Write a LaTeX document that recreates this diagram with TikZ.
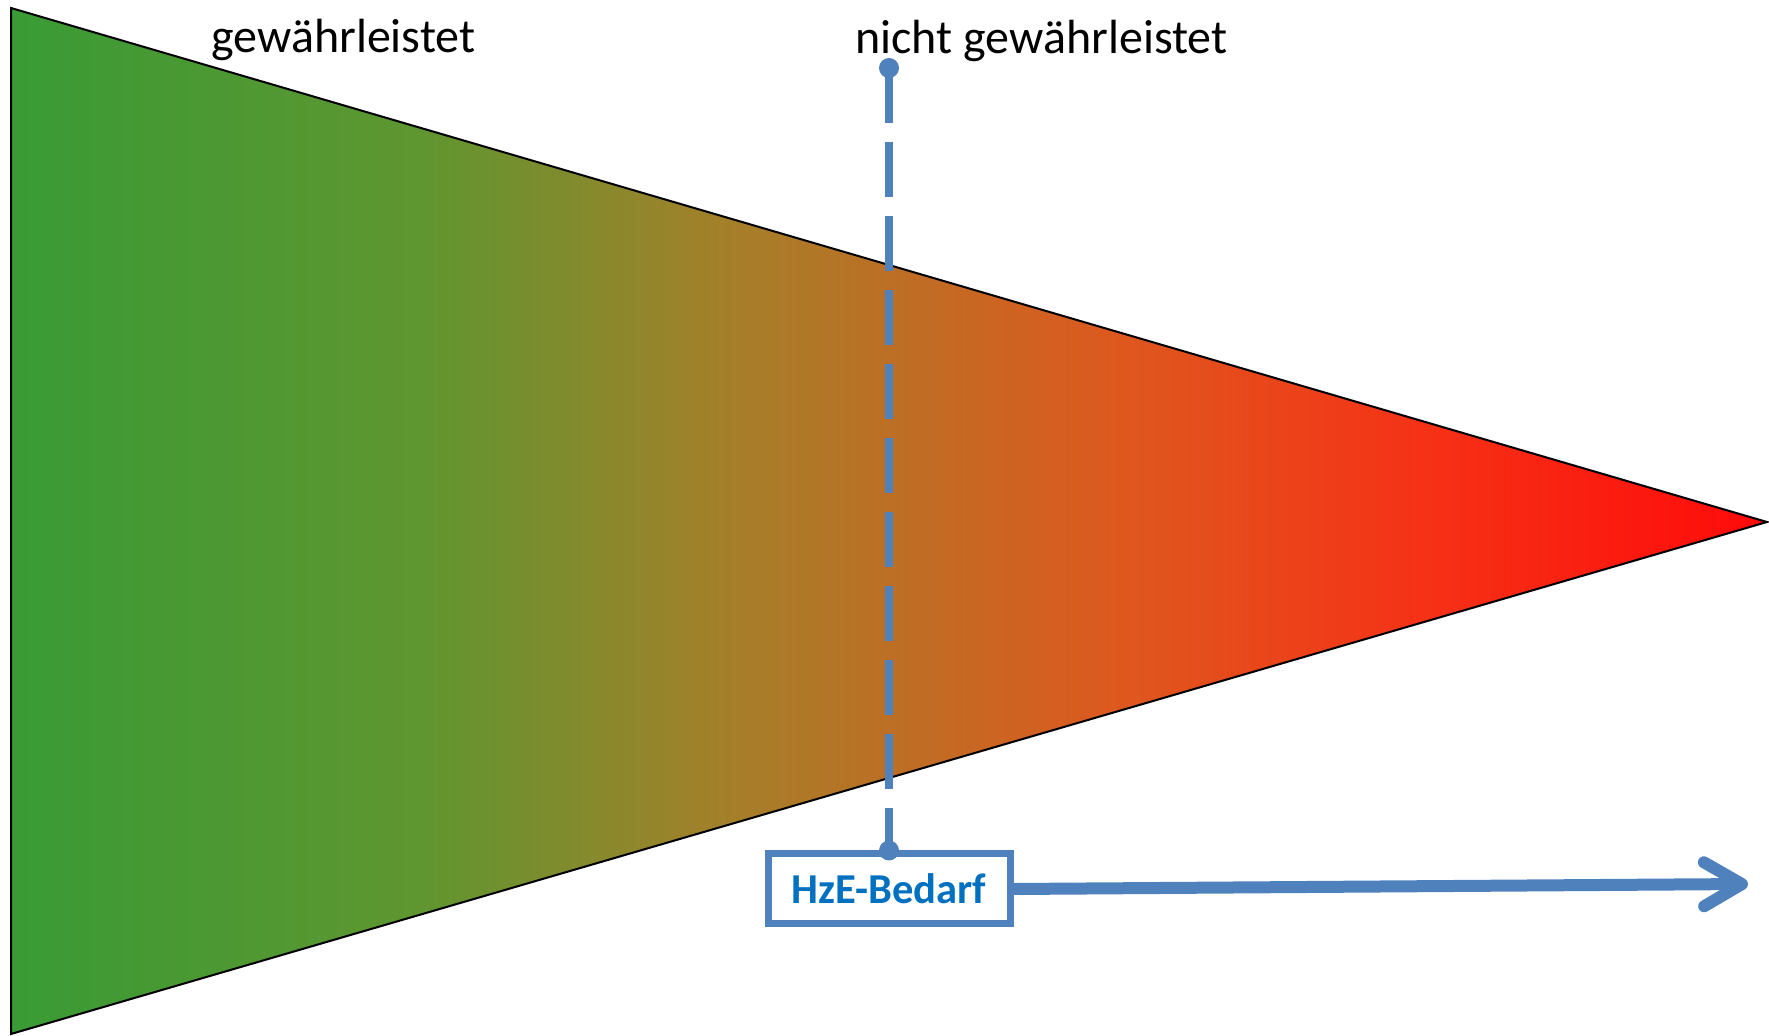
\documentclass[tikz,border=0pt]{standalone}
\usepackage{fontspec}
\setmainfont{Carlito}
\usetikzlibrary{arrows.meta}
\definecolor{g0}{RGB}{57,155,53}
\definecolor{g1}{RGB}{95,150,48}
\definecolor{g2}{RGB}{163,128,42}
\definecolor{g3}{RGB}{222,88,30}
\definecolor{g4}{RGB}{245,50,22}
\definecolor{g5}{RGB}{255,10,10}
\definecolor{lineblue}{RGB}{79,129,189}
\definecolor{textblue}{RGB}{0,112,192}
\pgfdeclarehorizontalshading{grnred}{100bp}{color(0bp)=(g0); color(25bp)=(g0); color(36.6bp)=(g1); color(45.2bp)=(g2); color(56.6bp)=(g3); color(65.1bp)=(g4); color(75bp)=(g5); color(100bp)=(g5)}
\tikzset{
  label/.style={anchor=base west, inner sep=0pt, font=\fontsize{24pt}{28pt}\selectfont, text=black},
  hzebox/.style={draw=lineblue, line width=3.5pt, fill=white, minimum width=121pt, minimum height=35pt, inner sep=0pt, font=\fontsize{21.3pt}{25pt}\selectfont\bfseries, text=textblue},
  dot/.style={circle, fill=lineblue, inner sep=0pt, minimum size=10pt},
  dashline/.style={draw=lineblue, line width=4pt, dash pattern=on 27.5pt off 9.5pt},
  arrowline/.style={draw=lineblue, line width=6pt, -{Straight Barb[length=19pt, width=22pt, round]}}
}
\begin{document}
\begin{tikzpicture}[x=0.5pt, y=-0.5pt]
\useasboundingbox (0,0) rectangle (1769,1036);
\shadedraw[shading=grnred, draw=black, line width=1pt, line join=miter] (11,8) -- (11,1034) -- (1767,522) -- cycle;
\node[label] (gw) at (211,53) {gewährleistet};
\node[label] (ngw) at (855,54) {nicht gewährleistet};
\node[hzebox] (hze) at (889,889) {HzE-Bedarf};
\node[dot] (dtop) at (889,68) {};
\draw[dashline] (dtop.center) -- (hze.north);
\node[dot] (dbot) at (hze.north) {};
\coordinate (aend) at (1748,884);
\draw[arrowline] (hze.east) -- (aend);
\end{tikzpicture}
\end{document}
